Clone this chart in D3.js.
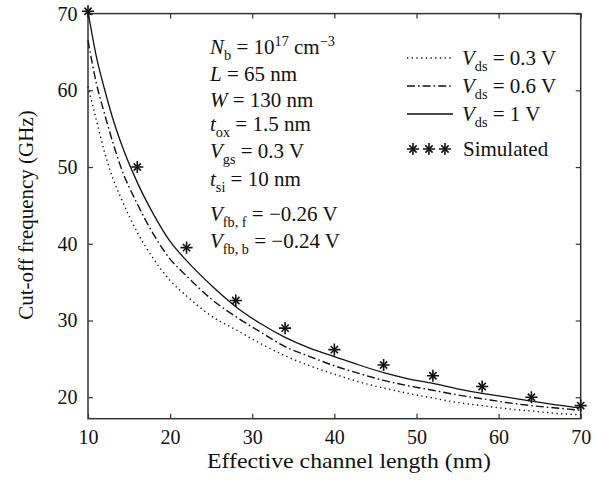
<!DOCTYPE html>
<html>
<head>
<meta charset="utf-8">
<script src="https://cdn.jsdelivr.net/npm/d3@7"></script>
<style>
  body { margin: 0; background: #fff; }
  text { font-family: "Liberation Serif", "DejaVu Serif", serif; fill: #111; }
</style>
</head>
<body>
<svg width="605" height="482"></svg>
<script>
// channel lengths (nm) used for the model curves
const lengths = [10, 11, 12, 13, 14, 16, 18, 20, 22, 25, 28, 31, 34, 37, 40, 43, 46, 49, 52, 55, 58, 61, 64, 67, 70];
// cut-off frequency (GHz)
const vds03 = [60.5, 56.2, 52.0, 48.6, 46.0, 41.5, 38.0, 35.2, 33.2, 30.6, 28.8, 27.0, 25.4, 24.1, 23.0, 22.0, 21.2, 20.5, 19.9, 19.3, 18.9, 18.5, 18.2, 17.9, 17.7];
const vds06 = [66.5, 61.0, 57.0, 53.3, 50.0, 45.2, 41.2, 38.0, 35.8, 32.8, 30.5, 28.5, 26.6, 25.3, 24.1, 23.1, 22.2, 21.5, 20.9, 20.3, 19.8, 19.3, 18.9, 18.6, 18.3];
const vds1  = [70.3, 64.5, 60.2, 56.4, 53.2, 48.0, 43.8, 40.3, 37.8, 34.6, 31.8, 29.6, 27.8, 26.4, 25.3, 24.2, 23.2, 22.4, 21.8, 21.1, 20.5, 20.0, 19.5, 19.0, 18.6];
// simulated points
const simLengths = [10, 16, 22, 28, 34, 40, 46, 52, 58, 64, 70];
const simValues  = [70.3, 50.0, 39.5, 32.6, 29.0, 26.2, 24.2, 22.8, 21.4, 20.0, 18.9];

const xTicks = [10, 20, 30, 40, 50, 60, 70];
const yTicks = [20, 30, 40, 50, 60, 70];

const svg = d3.select('svg');
const width  = +svg.attr('width');
const height = +svg.attr('height');
const margin = { top: 13.6, right: 24.3, bottom: 63.3, left: 88 };
const innerWidth  = width - margin.left - margin.right;
const innerHeight = height - margin.top - margin.bottom;

const g = svg.append('g')
  .attr('transform', `translate(${margin.left},${margin.top})`);

const xScale = d3.scaleLinear().domain([10, 70]).range([0, innerWidth]);
const yScale = d3.scaleLinear().domain([17.2, 70]).range([innerHeight, 0]);

// axes: ticks point inwards on all four sides
const tickLen = 5;
const axisColor = '#333';

const xAxisB = g.append('g').attr('transform', `translate(0,${innerHeight})`)
  .call(d3.axisBottom(xScale).tickValues(xTicks).tickSizeInner(-tickLen).tickSizeOuter(0).tickPadding(10.5));
const xAxisT = g.append('g')
  .call(d3.axisTop(xScale).tickValues(xTicks).tickSizeInner(-tickLen).tickSizeOuter(0));
const yAxisL = g.append('g')
  .call(d3.axisLeft(yScale).tickValues(yTicks).tickSizeInner(-tickLen).tickSizeOuter(0).tickPadding(10.5));
const yAxisR = g.append('g').attr('transform', `translate(${innerWidth},0)`)
  .call(d3.axisRight(yScale).tickValues(yTicks).tickSizeInner(-tickLen).tickSizeOuter(0));

// mirrored axes carry ticks only
xAxisT.selectAll('text').remove();
yAxisR.selectAll('text').remove();

[xAxisB, xAxisT, yAxisL, yAxisR].forEach(a => {
  a.attr('font-size', null).attr('font-family', null).attr('fill', null);
  a.select('.domain').remove();
  a.selectAll('line').attr('stroke', axisColor).attr('stroke-width', 1.2);
});
// tick labels: pixel offsets instead of em offsets
xAxisB.selectAll('text')
  .attr('font-size', 20).attr('fill', '#111').attr('text-anchor', 'middle')
  .attr('y', 25).attr('dy', null);
yAxisL.selectAll('text')
  .attr('font-size', 20).attr('fill', '#111').attr('text-anchor', 'end')
  .attr('dy', 6.5);

// frame
g.append('rect')
  .attr('width', innerWidth).attr('height', innerHeight)
  .attr('fill', 'none').attr('stroke', axisColor).attr('stroke-width', 1.5);

// axis titles
svg.append('text')
  .attr('x', 349).attr('y', 468)
  .attr('text-anchor', 'middle').attr('font-size', 21)
  .attr('textLength', 284).attr('lengthAdjust', 'spacingAndGlyphs')
  .text('Effective channel length (nm)');
svg.append('text')
  .attr('transform', 'translate(33,215) rotate(-90)')
  .attr('text-anchor', 'middle').attr('font-size', 21)
  .text('Cut-off frequency (GHz)');

// curves
const series = [
  { values: vds03, dash: '1.3,3.4', width: 1.4 },
  { values: vds06, dash: '8,3,1.6,3', width: 1.4 },
  { values: vds1,  dash: null,       width: 1.3 }
];
const line = d3.line()
  .x((d, i) => xScale(lengths[i]))
  .y(d => yScale(d))
  .curve(d3.curveMonotoneX);

series.forEach(s => {
  g.append('path')
    .attr('d', line(s.values))
    .attr('fill', 'none')
    .attr('stroke', '#111')
    .attr('stroke-width', s.width)
    .attr('stroke-dasharray', s.dash);
});

// star marker = plus + times
const starPlus  = d3.symbol().type(d3.symbolPlus).size(50);
const starTimes = d3.symbol().type(d3.symbolTimes).size(36);
const drawStar = (sel, x, y) => {
  const m = sel.append('g').attr('transform', `translate(${x},${y})`);
  m.append('path').attr('d', starPlus()).attr('fill', 'none').attr('stroke', '#111').attr('stroke-width', 1.6);
  m.append('path').attr('d', starTimes()).attr('fill', 'none').attr('stroke', '#111').attr('stroke-width', 1.6);
};
simLengths.forEach((l, i) => drawStar(g, xScale(l), yScale(simValues[i])));

// text with italics and sub/superscripts
const richText = (x, y, parts, size) => {
  const t = svg.append('text').attr('x', x).attr('y', y).attr('font-size', size);
  let shift = 0;
  parts.forEach(p => {
    const target = p.sub ? 6 : p.sup ? -8 : 0;
    t.append('tspan')
      .attr('dy', target - shift)
      .attr('font-size', (p.sub || p.sup) ? size * 0.68 : size)
      .attr('font-style', p.i ? 'italic' : null)
      .text(p.t);
    shift = target;
  });
  return t;
};

// parameter block
const annSize = 21;
const annX = 210;
richText(annX, 54,  [{ t: 'N', i: true }, { t: 'b', sub: true }, { t: ' = 10' }, { t: '17', sup: true }, { t: ' cm' }, { t: '−3', sup: true }], annSize);
richText(annX, 81,  [{ t: 'L', i: true }, { t: ' = 65 nm' }], annSize);
richText(annX, 107, [{ t: 'W', i: true }, { t: ' = 130 nm' }], annSize);
richText(annX, 131, [{ t: 't', i: true }, { t: 'ox', sub: true }, { t: ' = 1.5 nm' }], annSize);
richText(annX, 158, [{ t: 'V', i: true }, { t: 'gs', sub: true }, { t: ' = 0.3 V' }], annSize);
richText(annX, 186, [{ t: 't', i: true }, { t: 'si', sub: true }, { t: ' = 10 nm' }], annSize);
richText(annX, 221, [{ t: 'V', i: true }, { t: 'fb, f', sub: true }, { t: ' = −0.26 V' }], annSize);
richText(annX, 248, [{ t: 'V', i: true }, { t: 'fb, b', sub: true }, { t: ' = −0.24 V' }], annSize);

// legend
const legX0 = 407, legX1 = 453, legTextX = 462;
const legRows = [
  { y: 58,  dash: '1.3,3.4', label: '0.3 V' },
  { y: 86,  dash: '8,3,1.6,3', label: '0.6 V' },
  { y: 114, dash: null, label: '1 V' }
];
legRows.forEach(r => {
  svg.append('line')
    .attr('x1', legX0).attr('x2', legX1).attr('y1', r.y).attr('y2', r.y)
    .attr('stroke', '#111').attr('stroke-width', 1.4)
    .attr('stroke-dasharray', r.dash);
  richText(legTextX, r.y + 7, [{ t: 'V', i: true }, { t: 'ds', sub: true }, { t: ' = ' + r.label }], 21);
});
[413, 429, 445].forEach(x => drawStar(svg, x, 149));
svg.append('text').attr('x', 463).attr('y', 156).attr('font-size', 21).text('Simulated');
</script>
</body>
</html>
